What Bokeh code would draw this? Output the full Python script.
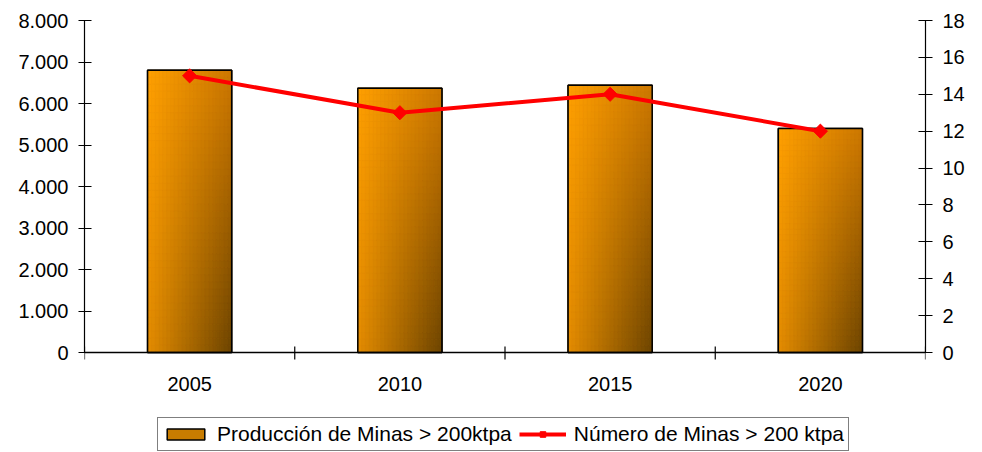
import numpy as np
from bokeh.plotting import figure
from bokeh.models import (Range1d, LinearAxis, FixedTicker, Legend, LegendItem,
                          ColumnDataSource)
from bokeh.core.properties import value
from bokeh.embed import file_html
from bokeh.resources import INLINE

# ---- data ----
years = ["2005", "2010", "2015", "2020"]
produccion = [6800, 6370, 6440, 5400]          # left axis
num_minas = [15, 13, 14, 12]                   # right axis
left_ticks = [0, 1000, 2000, 3000, 4000, 5000, 6000, 7000, 8000]
left_labels = ["0", "1.000", "2.000", "3.000", "4.000", "5.000", "6.000", "7.000", "8.000"]
right_ticks = [0, 2, 4, 6, 8, 10, 12, 14, 16, 18]
bar_label = "Producción de Minas > 200ktpa"
line_label = "Número de Minas > 200 ktpa"

FONT = "Liberation Sans"
BAR_W = 0.4
W, H = 982, 452
TOP, AXIS_Y, LEFT, RIGHT = 20, 352, 84, 925   # layout in pixels
LMAX, RMAX = left_ticks[-1], right_ticks[-1]
px_l = LMAX / (AXIS_Y - TOP)                   # data units per pixel, left axis
px_r = RMAX / (AXIS_Y - TOP)
below = H - AXIS_Y                             # pixels below the zero line

xc = [i + 0.5 for i in range(len(years))]

p = figure(width=W, height=H, output_backend="svg", toolbar_location=None,
           x_range=Range1d(0, len(years)), y_range=Range1d(-below * px_l, LMAX),
           x_axis_location=None,
           min_border_left=LEFT, min_border_right=W - RIGHT, min_border_top=TOP,
           min_border_bottom=0)
p.outline_line_color = None
p.background_fill_color = "white"
p.border_fill_color = "white"
p.extra_y_ranges = {"n": Range1d(-below * px_r, RMAX)}
p.xgrid.grid_line_color = None
p.ygrid.ticker = FixedTicker(ticks=[LMAX])
p.ygrid.grid_line_color = "#808080"
p.ygrid.grid_line_width = 1.2

# ---- bars: solid base (used for the legend), gradient slices, outline ----
bars = p.vbar(x=xc, top=produccion, width=BAR_W, bottom=0, fill_color="#c87c00",
              line_color="black", line_width=1.5)

TL = np.array([255, 160, 0]); TR = np.array([205, 120, 0])
BL = np.array([228, 140, 0]); BR = np.array([108, 68, 0])
NX, NY = 22, 40
L, R, T, B, C = [], [], [], [], []
for x, v in zip(xc, produccion):
    x0 = x - BAR_W / 2
    for i in range(NX):
        fx = (i + 0.5) / NX
        for j in range(NY):
            fy = (j + 0.5) / NY  # 0 at top
            col = (TL * (1 - fx) * (1 - fy) + TR * fx * (1 - fy) +
                   BL * (1 - fx) * fy + BR * fx * fy)
            L.append(x0 + BAR_W * i / NX)
            R.append(x0 + BAR_W * (i + 1) / NX)
            T.append(v * (1 - j / NY))
            B.append(v * (1 - (j + 1) / NY))
            C.append("#%02x%02x%02x" % tuple(int(round(c)) for c in col))
src = ColumnDataSource(dict(left=L, right=R, top=T, bottom=B, color=C))
p.quad(left="left", right="right", top="top", bottom="bottom", source=src,
       fill_color="color", line_color="color", line_width=0.6)
p.vbar(x=xc, top=produccion, width=BAR_W, bottom=0, fill_color=None,
       line_color="black", line_width=1.5)

# ---- category axis (drawn inside the extended frame) ----
bounds = list(range(len(years) + 1))
p.segment(x0=[0], y0=[0], x1=[len(years)], y1=[0], line_color="black", line_width=1.5)
p.segment(x0=bounds, y0=[6 * px_l] * len(bounds), x1=bounds, y1=[-7 * px_l] * len(bounds),
          line_color="black", line_width=1.2)
p.text(x=xc, y=[-31.5 * px_l] * len(xc), text=years, text_align="center",
       text_baseline="alphabetic", text_font=value(FONT), text_font_size="20px",
       text_color="black")

# ---- line ----
ln = p.line(xc, num_minas, y_range_name="n", line_color="#ff0000", line_width=4)
mk = p.scatter(xc, num_minas, y_range_name="n", marker="square", angle=np.pi / 4,
               size=10, fill_color="#ff0000", line_color="#ff0000")

# ---- y axes ----
p.yaxis.ticker = FixedTicker(ticks=left_ticks, minor_ticks=[])
p.yaxis.major_label_overrides = {t: s for t, s in zip(left_ticks, left_labels)}
p.yaxis.bounds = (0, LMAX)
p.yaxis.major_tick_in = 7
p.yaxis.major_tick_out = 6
p.yaxis.major_label_standoff = 10

ra = LinearAxis(y_range_name="n", ticker=FixedTicker(ticks=right_ticks, minor_ticks=[]))
ra.bounds = (0, RMAX)
ra.major_tick_in = 7
ra.major_tick_out = 7
ra.major_label_standoff = 10
p.add_layout(ra, "right")

for ax in [p.yaxis[0], ra]:
    ax.major_label_text_font = FONT
    ax.major_label_text_font_size = "20px"
    ax.major_label_text_color = "black"
    ax.axis_line_color = "black"
    ax.axis_line_width = 1.2
    ax.major_tick_line_color = "black"
    ax.major_tick_line_width = 1.2
    ax.minor_tick_line_color = None

# ---- legend ----
legend = Legend(items=[LegendItem(label=bar_label, renderers=[bars]),
                       LegendItem(label=line_label, renderers=[ln, mk])],
                location=(157 - LEFT, 1), orientation="horizontal")
legend.label_text_font = FONT
legend.label_text_font_size = "21px"
legend.label_text_color = "black"
legend.glyph_width = 47
legend.glyph_height = 14
legend.label_standoff = 8
legend.spacing = 7
legend.padding = 4
legend.margin = 0
legend.border_line_color = "black"
legend.border_line_width = 1.2
legend.background_fill_color = "white"
legend.background_fill_alpha = 1
p.add_layout(legend, "center")

open("out.html", "w").write(file_html(p, INLINE))
